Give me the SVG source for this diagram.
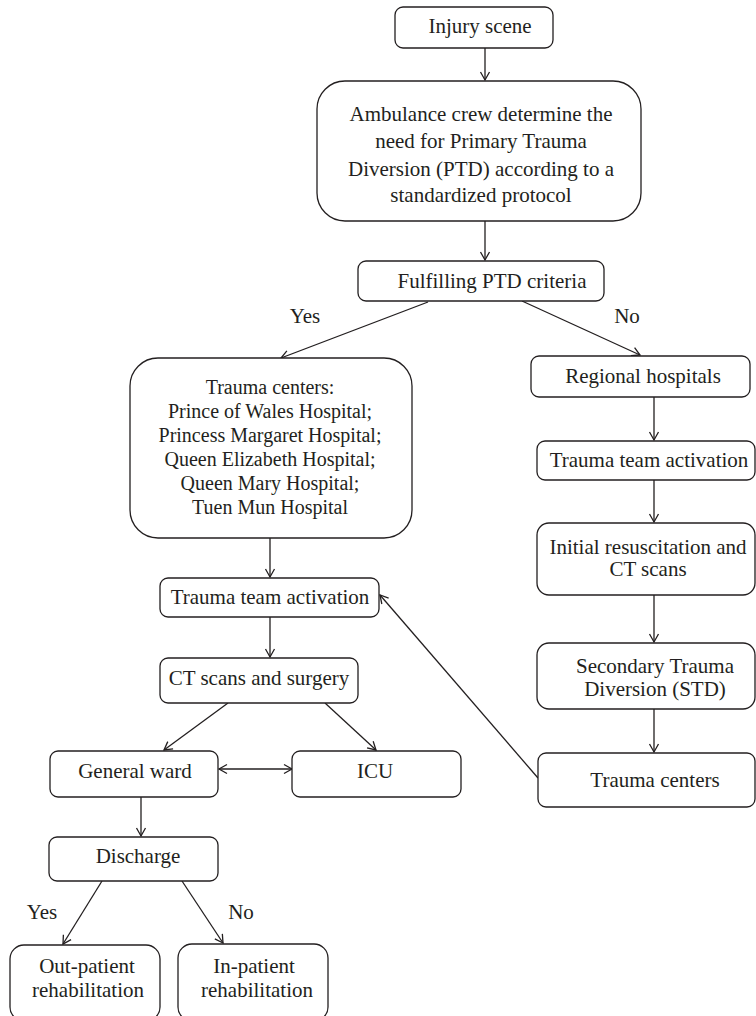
<svg xmlns="http://www.w3.org/2000/svg" width="756" height="1016" viewBox="0 0 756 1016">
<style>
.box{fill:#fff;stroke:#231f20;stroke-width:1.3}
.t{font-family:"Liberation Serif","Times New Roman",serif;font-size:21px;fill:#231f20;text-anchor:middle}
.s{font-size:20px}
.c{fill:none;stroke:#231f20;stroke-width:1.3}
</style>
<defs>
<marker id="ah" markerUnits="userSpaceOnUse" viewBox="-10 -6 12 12" refX="0" refY="0" markerWidth="12" markerHeight="12" orient="auto-start-reverse">
<path d="M-8,-4.5 L0,0 L-8,4.5" fill="none" stroke="#231f20" stroke-width="1.3"/>
</marker>
</defs>
<rect width="756" height="1016" fill="#fff"/>
<g id="connectors">
<line class="c" x1="485" y1="48" x2="485" y2="80" marker-end="url(#ah)"/>
<line class="c" x1="485" y1="221" x2="485" y2="260" marker-end="url(#ah)"/>
<line class="c" x1="428" y1="302" x2="281" y2="358" marker-end="url(#ah)"/>
<line class="c" x1="522" y1="301" x2="640" y2="355" marker-end="url(#ah)"/>
<line class="c" x1="654" y1="397" x2="654" y2="440" marker-end="url(#ah)"/>
<line class="c" x1="654" y1="480" x2="654" y2="522" marker-end="url(#ah)"/>
<line class="c" x1="654" y1="595" x2="654" y2="642" marker-end="url(#ah)"/>
<line class="c" x1="654" y1="709" x2="654" y2="752" marker-end="url(#ah)"/>
<line class="c" x1="538" y1="778" x2="380" y2="595" marker-end="url(#ah)"/>
<line class="c" x1="270" y1="538" x2="270" y2="577" marker-end="url(#ah)"/>
<line class="c" x1="270" y1="617" x2="270" y2="657" marker-end="url(#ah)"/>
<line class="c" x1="228" y1="703" x2="164" y2="750" marker-end="url(#ah)"/>
<line class="c" x1="325" y1="703" x2="376" y2="750" marker-end="url(#ah)"/>
<line class="c" x1="219" y1="769" x2="292" y2="769" marker-start="url(#ah)" marker-end="url(#ah)"/>
<line class="c" x1="141" y1="797" x2="141" y2="836" marker-end="url(#ah)"/>
<line class="c" x1="102" y1="881" x2="63" y2="944" marker-end="url(#ah)"/>
<line class="c" x1="182" y1="881" x2="223" y2="943" marker-end="url(#ah)"/>
<text class="t" x="305" y="323">Yes</text>
<text class="t" x="627" y="323">No</text>
<text class="t" x="42" y="919">Yes</text>
<text class="t" x="241" y="919">No</text>
</g>
<g id="injury"><rect class="box" x="395" y="7" width="158" height="41" rx="8"/><text class="t" x="480" y="33">Injury scene</text></g>
<g id="ambulance"><rect class="box" x="317" y="81" width="324" height="140" rx="28"/>
<text class="t" x="481" y="121">Ambulance crew determine the</text>
<text class="t" x="481" y="148">need for Primary Trauma</text>
<text class="t" x="481" y="176">Diversion (PTD) according to a</text>
<text class="t" x="481" y="202">standardized protocol</text></g>
<g id="fulfilling"><rect class="box" x="358" y="261" width="246" height="40" rx="8"/><text class="t" x="492" y="288">Fulfilling PTD criteria</text></g>
<g id="trauma-centers"><rect class="box" x="130" y="358" width="282" height="180" rx="28"/>
<text class="t s" x="270" y="394">Trauma centers:</text>
<text class="t s" x="270" y="418">Prince of Wales Hospital;</text>
<text class="t s" x="270" y="442">Princess Margaret Hospital;</text>
<text class="t s" x="270" y="466">Queen Elizabeth Hospital;</text>
<text class="t s" x="270" y="490">Queen Mary Hospital;</text>
<text class="t s" x="270" y="514">Tuen Mun Hospital</text></g>
<g id="regional"><rect class="box" x="531" y="356" width="219" height="41" rx="8"/><text class="t" x="643" y="383">Regional hospitals</text></g>
<g id="tta-right"><rect class="box" x="537" y="441" width="218" height="39" rx="8"/><text class="t" x="649" y="467">Trauma team activation</text></g>
<g id="initial"><rect class="box" x="537" y="523" width="218" height="72" rx="12"/>
<text class="t" x="648" y="554">Initial resuscitation and</text>
<text class="t" x="648" y="576">CT scans</text></g>
<g id="secondary"><rect class="box" x="537" y="643" width="218" height="66" rx="12"/>
<text class="t" x="655" y="673">Secondary Trauma</text>
<text class="t" x="655" y="696">Diversion (STD)</text></g>
<g id="tc-right"><rect class="box" x="538" y="753" width="217" height="54" rx="8"/><text class="t" x="655" y="787">Trauma centers</text></g>
<g id="tta-left"><rect class="box" x="160" y="578" width="219" height="39" rx="8"/><text class="t" x="270" y="604">Trauma team activation</text></g>
<g id="ct"><rect class="box" x="160" y="658" width="198" height="45" rx="8"/><text class="t" x="259" y="685">CT scans and surgery</text></g>
<g id="general"><rect class="box" x="50" y="751" width="168" height="46" rx="8"/><text class="t" x="135" y="778">General ward</text></g>
<g id="icu"><rect class="box" x="292" y="751" width="169" height="46" rx="8"/><text class="t" x="375" y="778">ICU</text></g>
<g id="discharge"><rect class="box" x="49" y="837" width="169" height="44" rx="8"/><text class="t" x="138" y="863">Discharge</text></g>
<g id="outpatient"><rect class="box" x="10" y="945" width="150" height="76" rx="14"/>
<text class="t" x="87" y="973">Out-patient</text>
<text class="t" x="88" y="997">rehabilitation</text></g>
<g id="inpatient"><rect class="box" x="178" y="944" width="150" height="77" rx="14"/>
<text class="t" x="254" y="973">In-patient</text>
<text class="t" x="257" y="997">rehabilitation</text></g>
</svg>
